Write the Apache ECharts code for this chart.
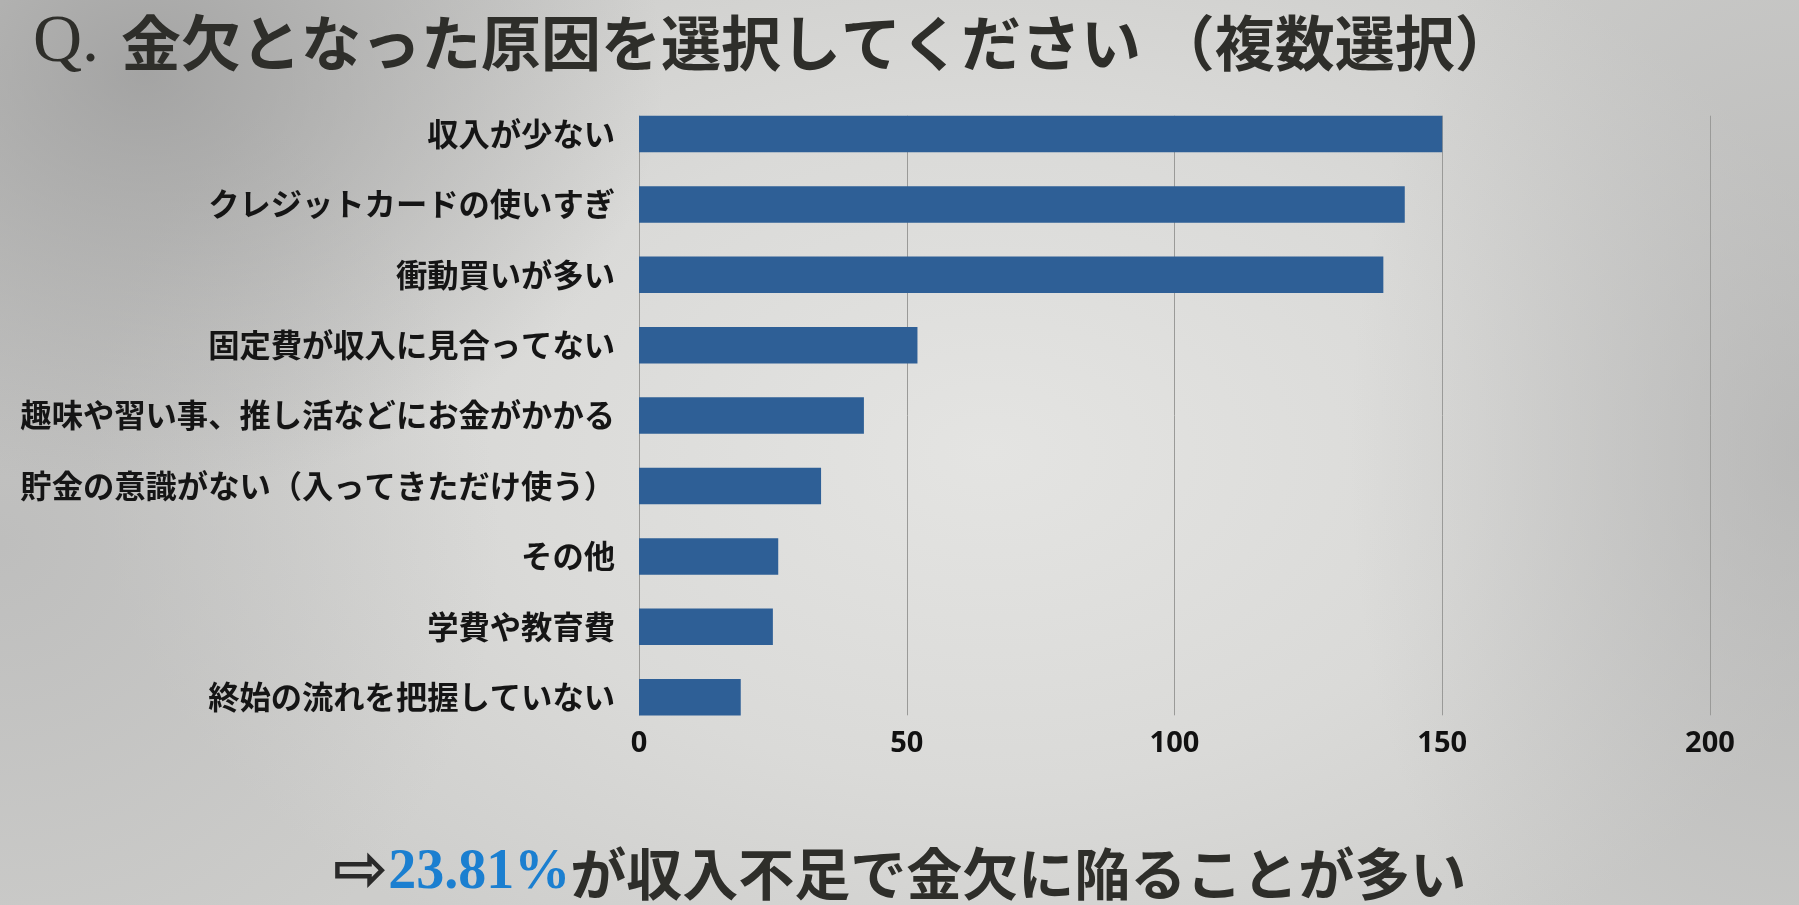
<!DOCTYPE html>
<html>
<head>
<meta charset="utf-8">
<script src="https://cdn.jsdelivr.net/npm/echarts@6/dist/echarts.min.js"></script>
<style>
html,body{margin:0;padding:0;width:1799px;height:905px;overflow:hidden;}
body{
  background:
    radial-gradient(ellipse 520px 420px at 8% 8%, rgba(150,150,150,0.75), rgba(150,150,150,0) 100%),
    radial-gradient(ellipse 500px 500px at 0% 60%, rgba(175,175,175,0.5), rgba(175,175,175,0) 100%),
    radial-gradient(ellipse 450px 700px at 100% 50%, rgba(170,170,170,0.6), rgba(170,170,170,0) 100%),
    radial-gradient(ellipse 900px 600px at 55% 50%, #e4e4e2 0%, #dadad8 55%, #cdcdcb 100%);
}
#chart{width:1799px;height:905px;}
</style>
</head>
<body>
<div id="chart"></div>
<script>
const categories = [
  '収入が少ない',
  'クレジットカードの使いすぎ',
  '衝動買いが多い',
  '固定費が収入に見合ってない',
  '趣味や習い事、推し活などにお金がかかる',
  '貯金の意識がない（入ってきただけ使う）',
  'その他',
  '学費や教育費',
  '終始の流れを把握していない'
];
const values = [150, 143, 139, 52, 42, 34, 26, 25, 19];
const axisMin = 0;
const axisMax = 200;
const axisInterval = 50;
const titleQ = 'Q.';
const titleText = '金欠となった原因を選択してください （複数選択）';
const noteArrow = '⇨';
const notePercent = '23.81%';
const noteText = 'が収入不足で金欠に陥ることが多い';

const chart = echarts.init(document.getElementById('chart'), null, {renderer: 'canvas'});
const gridLeft = 639, gridRight = 89;
chart.setOption({
  backgroundColor: 'transparent',
  animation: false,
  title: [
    {
      text: '{q|' + titleQ + '}{t|' + titleText + '}',
      left: 28, top: -2,
      textStyle: {
        rich: {
          q: {fontFamily: 'Liberation Serif', fontWeight: 'normal', fontSize: 68, color: '#2e2e2a', lineHeight: 80, padding: [0, 22, 0, 0]},
          t: {fontFamily: 'Noto Sans CJK JP', fontWeight: 'bold', fontSize: 60, color: '#2e2e2a', lineHeight: 80}
        }
      }
    },
    {
      text: '{a|' + noteArrow + '}{b|' + notePercent + '}{c|' + noteText + '}',
      left: 'center', top: 834,
      textStyle: {
        rich: {
          a: {fontFamily: 'DejaVu Sans', fontSize: 66, color: '#2a2a2a', lineHeight: 70},
          b: {fontFamily: 'Liberation Serif', fontWeight: 'bold', fontSize: 56, color: '#1b7fd0', lineHeight: 70},
          c: {fontFamily: 'Noto Sans CJK JP', fontWeight: 'bold', fontSize: 56, color: '#2e2e2a', lineHeight: 70}
        }
      }
    }
  ],
  grid: [
    {left: gridLeft, right: gridRight, top: 98.8, height: 633.6, containLabel: false},
    {left: gridLeft, right: gridRight, top: 115.7, height: 599.6, containLabel: false}
  ],
  xAxis: [
    {gridIndex: 0, type: 'value', min: axisMin, max: axisMax, interval: axisInterval, show: false},
    {
      gridIndex: 1, type: 'value', min: axisMin, max: axisMax, interval: axisInterval,
      axisLine: {show: false}, axisTick: {show: false},
      splitLine: {show: true, lineStyle: {color: '#9a9a98', width: 1}},
      axisLabel: {margin: 14, fontFamily: 'Noto Sans', fontWeight: 'bold', fontSize: 29, color: '#111'}
    }
  ],
  yAxis: [
    {
      gridIndex: 0, type: 'category', data: categories, inverse: true,
      axisLine: {show: false}, axisTick: {show: false}, splitLine: {show: false},
      axisLabel: {margin: 24, fontFamily: 'Noto Sans CJK JP', fontWeight: 'bold', fontSize: 31.3, color: '#151515'}
    },
    {gridIndex: 1, type: 'value', show: false}
  ],
  series: [
    {
      type: 'bar', xAxisIndex: 0, yAxisIndex: 0, data: values,
      barWidth: 36.5,
      itemStyle: {color: '#2e5f96'},
      z: 5
    }
  ]
});
</script>
</body>
</html>
